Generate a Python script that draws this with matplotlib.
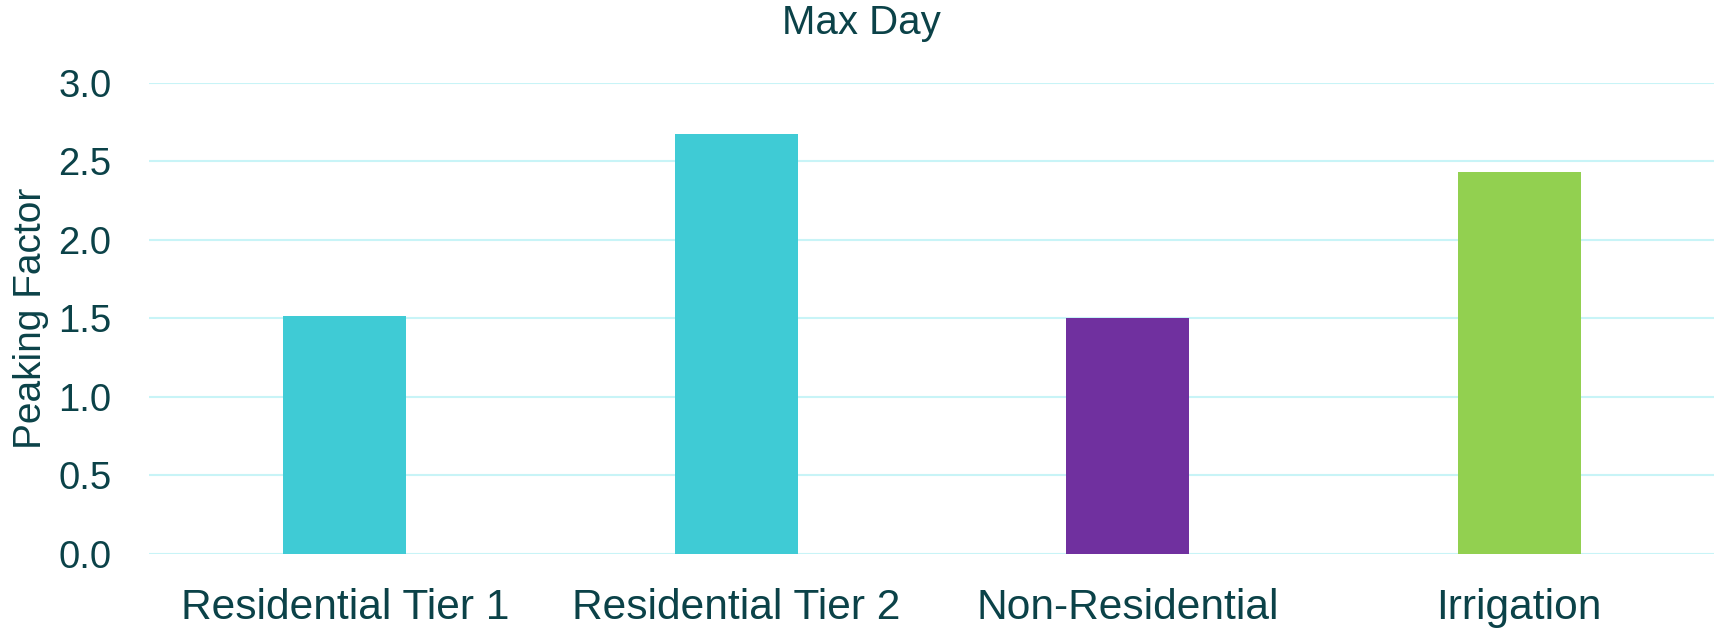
import matplotlib.pyplot as plt

categories = ["Residential Tier 1", "Residential Tier 2", "Non-Residential", "Irrigation"]
values = [1.51, 2.67, 1.50, 2.43]
colors = ["#3FCBD5", "#3FCBD5", "#70309F", "#92D050"]
yticks = [0.0, 0.5, 1.0, 1.5, 2.0, 2.5, 3.0]

text_color = "#0B4248"
grid_color = "#C8F4F7"

plt.rcParams['font.family'] = ['Liberation Sans', 'DejaVu Sans']

fig = plt.figure(figsize=(17.15, 6.3), dpi=100)
ax = fig.add_axes([0.0869, 0.1214, 0.9131, 0.7476])

x = list(range(len(categories)))
ax.bar(x, values, width=0.315, color=colors, zorder=3)

ax.set_xlim(-0.5, 3.5)
ax.set_ylim(0, 3.0)
ax.set_yticks(yticks)
ax.set_yticklabels([f"{t:.1f}" for t in yticks])
ax.set_xticks(x)
ax.set_xticklabels(categories)

ax.grid(axis="y", color=grid_color, linewidth=1.5, zorder=0)
ax.set_axisbelow(True)
for s in ax.spines.values():
    s.set_visible(False)

ax.tick_params(axis="y", length=0, pad=27, labelsize=27.5, labelcolor=text_color)
ax.tick_params(axis="x", length=0, pad=24.5, labelsize=30.6, labelcolor=text_color)

ax.set_ylabel("Peaking Factor", fontsize=28, color=text_color, labelpad=7)
# title sits centred on the whole figure, not on the plot area
fig.text(0.5025, 1 - 34 / 630, "Max Day", fontsize=29, color=text_color,
         ha="center", va="baseline")

fig.savefig("out.png", dpi=100)
